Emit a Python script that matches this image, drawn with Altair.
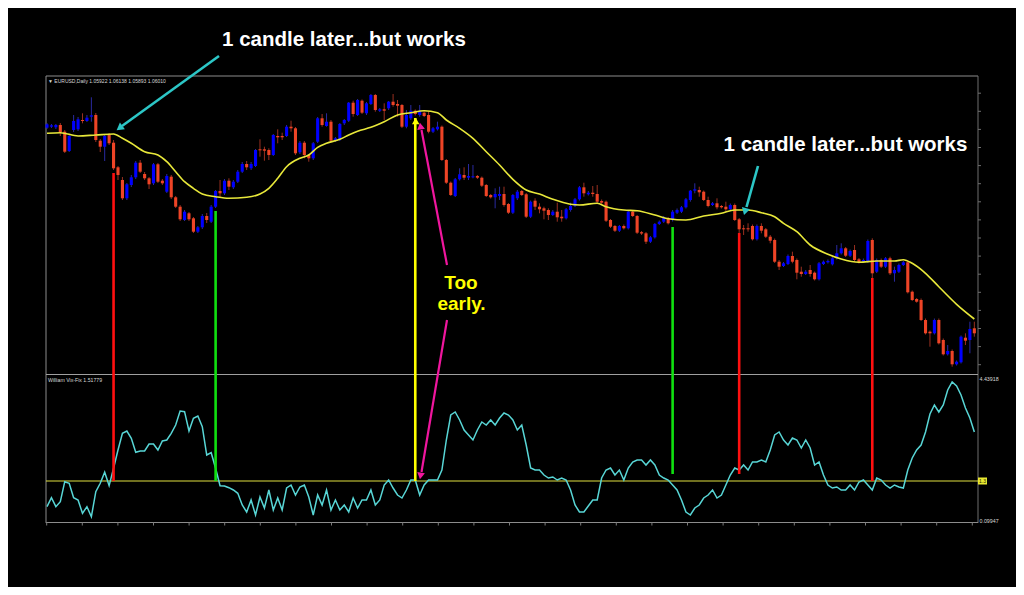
import altair as alt
import pandas as pd

# ---------------- data ----------------
# price levels (arbitrary price units, higher = higher price)
opens = [272.3,273.3,272.7,275,268.3,249,270,270.7,280,279,283.3,285,259.3,253.3,265,257.3,232.7,220,201.7,215,
         222.7,237.3,226,221.7,216.7,235.7,219.3,208.3,223.3,202.7,193.3,180,186.7,181.7,168.3,172.7,184,178.3,193.3,209,
         206.7,219.3,212.7,218.3,228.3,236,231.7,234,250.7,250.7,250,245,264,264,264,273.3,271.7,247.7,257.3,245,
         241.7,258.3,281.7,274,278.3,259.3,260.7,276.7,279.3,297.3,285,299.3,286.7,296,305,289.3,290.7,291.7,298.3,296,
         295,273.3,281.7,289.3,285,287.3,285,268.3,270.7,273.3,240,217.3,204,220.7,225,222.3,222.7,224,222.3,215,
         205,202.7,204,206,196,187.3,201.7,209,205.7,183.3,199.3,193.3,191.7,190,185,188.3,183.3,181.7,190,194,
         200.7,212.7,205.7,207.3,206,199,198.3,180,174,169.3,174,171.7,188.3,184,167.8,166.7,158.3,162.7,176,178.3,
         181.7,180,187.3,188.3,192.7,200,209.3,210,208.3,200,195,196.7,194,193.3,190.7,195,180.7,171.7,171.7,174,
         160.7,174,170.7,163.3,160,138.3,134,136,144,140,128.3,126,130,127.3,120.7,136,137.7,135.7,141.7,146.7,
         151.7,144.3,150,140.7,138.3,138.3,160,128.3,140,133.3,141.7,126.7,128.3,135,137.7,108.3,101,100,80,68.3,
         66.7,80,60,45.7,49,35.7,37.7,62.3,60,71.7]
closes = [275.7,274.7,275,268,248.3,264,279,280.7,279,282.3,284.7,260,253.3,264,256.7,231.7,225,201.7,215.7,222.7,
          237.3,228.3,221.7,215.7,235.7,218.3,216.7,224,202.7,193.3,180.7,188.3,180.7,168.3,172.7,184,180,193.3,209,206.7,
          219.3,213.3,218.3,228.3,236,232.7,236,250,249.7,249.3,245,265,262.7,262.7,273.3,271.7,246.7,257.3,245,241.7,
          256.7,281.7,275,278.3,259.3,261.7,276,280,297.3,286,300,287.3,296.7,305,290,290.7,289.3,298.3,295,294.3,
          273.3,285,289.3,286,289.3,284,268.3,271.7,273.3,240,217.3,205,220.7,225.7,222.3,224,223.7,222.3,214.3,204,
          202.7,206,206,195,187.3,205,208.3,205,183.3,198.3,193.3,190.7,189.3,185,188.3,182.7,181.7,190.7,194,200.7,
          212.7,206.7,207.3,206,198.3,197.3,179.3,173.3,169.3,174,171.7,188.3,184,167.3,166.5,158.3,162.7,176,178.3,182.7,
          176.7,188.3,190,192.7,200.7,209.3,210.7,207.7,200,194,196.7,192.7,192.7,190.7,195,180,170.7,170.7,170.7,160.7,
          174,169.3,163.3,159.3,138.3,133.3,136.7,144,138.3,127.3,126,128.3,126,120.7,136.7,138.3,139,141.7,146.7,151.7,
          144.3,149,140,137.7,140,159,126.7,140,133.3,141.7,126.7,130,135,137.7,107.7,100,98.3,80,66.7,66.7,
          80,56.7,45.7,49,35.7,38.3,63.3,59.3,71,66.7]
highs = [277,276,276,277,270,265,285,283,286.7,285,302.7,287,261,265,267,260,234,223,217,225,
         239,240,228,223,237,237,221,226,225,204,195,190,188,183,174,186,187,195,210,220,
         221,221.7,220,230,238,239,238,251,260.7,253.3,251.7,266,270.7,267.3,275,279.3,273,259,259,246,
         258,283,286,286.7,280,263,277,281,298,299.3,301,300.5,298,306,306,292,296.7,299,306,300,
         296,290,295,290.5,295,288.5,288.3,273,278.3,274.5,241,218.5,222,231.7,232.7,236,235,225,223.5,216,
         206,211.7,213.3,213.3,197,206,210,210,207,199.5,201.7,196.7,193.3,191.7,190,197.3,190,192,197.3,202,
         214,217.3,209,214,215,200.5,199.5,181,175,175,175.5,189.5,189.5,185,169,168,164,177,179.5,184,
         183,190,191.5,194,202,210,216.7,213.3,209.5,203.3,198,201.7,195,198.3,196.5,196.5,182,175,176.7,175.5,
         175.5,176.7,172,165,161.5,140,138,145.5,148.3,141.5,133.3,130,135,128.5,138,139.5,140.5,143,155,156.7,
         153,150.5,155,142,141.5,160.5,161.7,141.5,141.5,143,143.3,133.3,136.5,139,139,109.5,102,101.5,81.5,69.5,
         81.5,81.5,61.5,55,50.5,39.5,64.5,66.7,78.3,78.3]
lows = [271,272,271,264,247,248,268,269,276.7,278,278.3,258,248,239,255,230,220,200,200,213,
        221,227,220,211,215,217,215,207,201,192,179,179,179,167,167,171,177,177,192,203,
        205,210,211,217,227,230,230,233,243.3,239.3,240,244,256.7,260,263,268.3,245,246,241.7,238.3,
        240,257,273.3,273.3,258,258,259,275,278,283.3,284,286,285,295,288.3,288,280,290,293.3,283.3,
        272,271.7,280,284.5,283.3,283,266.7,267,269.5,239,216,204,203,219.5,220,220,221.7,221,213,203,
        201.5,191.7,200,193.3,186,186,200,204,182,182,190,186.7,180.7,180,184,178.3,178.3,180.5,188.3,193,
        199.5,203.3,204.5,203.3,196.7,196,178,172,168,168,170.5,170.5,183,166,165,156,157,161.5,175,177,
        175.5,178.5,186,187,191.5,198.3,206.7,203.3,199,192.7,194,190.7,191.5,188.3,189.5,179,166.7,165,168.3,159.5,
        159.5,166.7,162,156.7,137,130,133,135,136.7,120.7,123.3,125,123.3,119.5,119.5,135,136.5,134.5,140.5,145.5,
        143,143,138.3,136.5,137,137,121.7,127,132,132,125,118.3,127,134,106.5,99,97.3,79,65.5,53.3,
        65.5,55.5,44.5,44.5,33.3,34.5,36.5,55,46.7,63.3]

# moving average (read at a subset of candles)
ma_idx = [1,4,8,12,16,18,20,23,26,28,30,32,34,36,39,42,46,49,51,53,55,58,60,62,64,67,69,71,74,77,80,83,86,89,91,94,
          97,100,103,106,109,112,115,119,121,125,127,131,134,138,141,145,149,153,156,159,162,165,167,170,173,177,
          180,184,188,192,194,196,199,202,206,210]
ma_val = [266.7,267.3,264,265,266,261.7,256.7,248.3,245,238.3,228.3,218.3,211.7,206,203.3,201.7,202.7,206,211.7,221.7,
          233.3,241.7,245,252.7,256.7,260.7,265,268.8,272.7,278.3,285,287.3,289.3,287.3,280,271.7,261.7,248.3,235,220.7,
          210,206,200.7,195.7,195,196.7,193.3,190,189.3,185,181.2,180,184,186.7,190,190,187.3,183.3,176.7,168.3,155,
          145.8,141,137.7,139,139,140.3,136.7,126.7,113.3,95.7,81]

# Williams Vix-Fix indicator (one value per candle)
vix = [13.3,22.3,13.3,18.3,38.3,36.7,22.3,20,6.7,13.3,3.3,28.3,36.7,47.7,34.3,51.7,70,86.7,89,81.7,
       67.7,69,69,76,76,70,79,80,86.7,95,109,108.3,89,101.7,104,93.3,65,67.3,51.7,34.3,
       34,32.3,30,26.7,15,8,20,5,23,12,30,10,22,10,32,35,25,33,35,23,
       5,25,15,30,10,20,10,15,8,22,12,20,20,30,15,20,35,40,32,25,
       22,30,40,40,25,35,40,40,40,50,80,105,108,100,90,85,80,90,98,95,
       100,95,102,107,105,100,90,95,75,52,50,50,45,42,43,40,42,40,30,15,
       8,8,14,20,20,42,50,52,45,50,40,52,58,60,60,55,60,55,45,42,
       40,35,30,20,8,5,12,15,22,25,30,22,25,35,45,52,50,55,50,58,
       58,60,58,70,85,88,80,75,82,80,72,80,72,55,58,45,35,32,33,30,
       30,35,30,38,40,35,30,42,40,35,32,35,33,32,50,62,70,75,88,106,
       115,108,115,130,138,134,125,112,102,88]

# signal lines: candle, price level where the line starts, kind
sig_idx = [16, 39, 84, 142, 157, 187]
sig_start = [227, 189, 282, 173, 167, 122]
sig_kind = ["sell", "buy", "early", "buy", "sell", "sell"]

# ---------------- chart ----------------
W, H = 1008, 579
OFF = 8
XS = alt.Scale(domain=[-7.79, 219.39], nice=False, zero=False)
PS = alt.Scale(domain=[-187, 392], nice=False, zero=False)
VS = alt.Scale(domain=[-67, 512], nice=False, zero=False)

candles = pd.DataFrame({"idx": list(range(1, len(opens) + 1)), "open": opens,
                        "close": closes, "high": highs, "low": lows})
ma = pd.DataFrame({"idx": ma_idx, "ma": ma_val})
ind = pd.DataFrame({"idx": list(range(1, len(vix) + 1)), "vix": vix})
dummy = pd.DataFrame({"k": [0]})

X = alt.X("idx:Q", scale=XS, axis=None)
UP = "datum.close >= datum.open"

wicks = alt.Chart(candles).mark_rule(strokeWidth=1).encode(
    x=X, y=alt.Y("low:Q", scale=PS, axis=None), y2="high:Q",
    color=alt.condition(UP, alt.value("#2a2aa0"), alt.value("#9a3020")))
bodies = alt.Chart(candles).mark_rule(strokeWidth=3.1).encode(
    x=X, y=alt.Y("open:Q", scale=PS, axis=None), y2="close:Q",
    color=alt.condition(UP, alt.value("#0000ff"), alt.value("#ee4426")))
ma_line = alt.Chart(ma).mark_line(color="#e8e83a", strokeWidth=1.6, interpolate="monotone").encode(
    x=X, y=alt.Y("ma:Q", scale=PS, axis=None))
ind_line = alt.Chart(ind).mark_line(color="#58d6d6", strokeWidth=1.5).encode(
    x=X, y=alt.Y("vix:Q", scale=VS, axis=None))


def seg(x1, y1, x2, y2, color, w):
    return alt.Chart(dummy).mark_rule(color=color, strokeWidth=w).encode(
        x=alt.value(x1 - OFF), y=alt.value(y1 - OFF), x2=alt.value(x2 - OFF), y2=alt.value(y2 - OFF))


def head(x, y, ang, color, size):
    return alt.Chart(dummy).mark_point(shape="triangle-up", filled=True, color=color, size=size,
                                       angle=ang, opacity=1, strokeWidth=0).encode(
        x=alt.value(x - OFF), y=alt.value(y - OFF))


def label(txt, x, y, size, color, weight="normal", align="center", font="Liberation Sans"):
    return alt.Chart(dummy).mark_text(text=txt, fontSize=size, color=color, fontWeight=weight,
                                      align=align, baseline="middle", font=font).encode(
        x=alt.value(x - OFF), y=alt.value(y - OFF))


GRAY = "#8c8c8c"
layers = [
    # frame
    seg(46, 76, 978, 76, GRAY, 1),
    seg(46, 76, 46, 523, GRAY, 1),
    seg(978, 76, 978, 523, "#6e6e6e", 1),
    seg(46, 374.5, 978, 374.5, "#a0a0a0", 1.2),
    seg(46, 522.5, 978, 522.5, GRAY, 1),
    # indicator level line
    seg(46, 481, 978, 481, "#e0e040", 1),
]
# small axis ticks of the terminal frame
for k in range(27):
    tx = 46.7 + k * 35.6
    if tx < 978:
        layers.append(seg(tx, 522.5, tx, 525.5, "#7a7a7a", 1))
for k in range(16):
    ty = 93.2 + k * 18.1
    if ty < 372:
        layers.append(seg(978, ty, 981, ty, "#6e6e6e", 1))

layers += [wicks, bodies, ma_line, ind_line]

sig_col = {"sell": "#ff1010", "buy": "#10e010", "early": "#ffff00"}
sig_end = [481, 481, 481, 474, 474, 481]
for i, s, k, e in zip(sig_idx, sig_start, sig_kind, sig_end):
    d = pd.DataFrame({"idx": [i], "lvl": [s]})
    layers.append(alt.Chart(d).mark_rule(color=sig_col[k], strokeWidth=2.6).encode(
        x=X, y=alt.Y("lvl:Q", scale=PS, axis=None), y2=alt.value(e - OFF)))

CYAN = "#2cc6c6"
MAG = "#f0169e"
layers += [
    head(415.7, 121, 0, "#ffff00", 55),
    seg(219, 56, 122, 126, CYAN, 2.6),
    head(119.5, 128, 233.5, CYAN, 70),
    seg(758, 166, 746.5, 207, CYAN, 2.6),
    head(745, 211.5, 195.5, CYAN, 70),
    seg(447, 265, 421.5, 130, MAG, 2.2),
    head(420.5, 126, 350, MAG, 60),
    seg(447, 320, 421.5, 472, MAG, 2.2),
    head(420.5, 476, 189.5, MAG, 60),
    label("1 candle later...but works", 344, 40, 20.5, "white", "bold"),
    label("1 candle later...but works", 845.5, 145, 20.5, "white", "bold"),
    label("Too", 461, 283, 19, "#ffff00", "bold"),
    label("early.", 461.5, 304, 19, "#ffff00", "bold"),
    label("\u25bc  EURUSD,Daily  1.05922 1.06138 1.05893 1.06010", 48, 80.5, 5, "#d8d8d8", align="left"),
    label("William Vix-Fix 1.51779", 48, 379.5, 5.2, "#d8d8d8", align="left"),
    label("4.43918", 979.5, 379, 5.3, "#d8d8d8", align="left"),
    label("0.09947", 979.5, 520.5, 5.3, "#d8d8d8", align="left"),
    alt.Chart(dummy).mark_rect(color="#e8e830").encode(
        x=alt.value(978 - OFF), x2=alt.value(987 - OFF), y=alt.value(477.5 - OFF), y2=alt.value(484.5 - OFF)),
    label("1.3", 982.5, 481, 5, "#202000"),
]

chart = alt.layer(*layers).resolve_scale(y="independent").properties(
    width=W, height=H, autosize=alt.AutoSizeParams(type="none"), padding=0, background="black"
).configure_view(stroke=None)

chart.save("out.html", embed_options={"renderer": "svg", "actions": False})
